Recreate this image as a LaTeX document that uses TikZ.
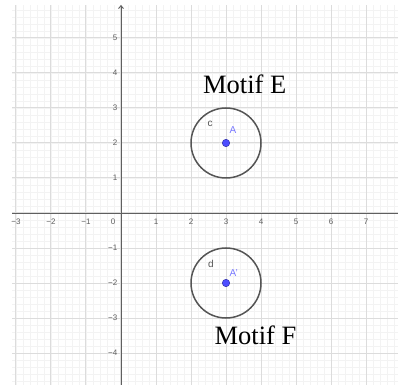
\documentclass[tikz,border=0pt]{standalone}
\usepackage{fontspec}
\setmainfont{Liberation Serif}
\setsansfont{Liberation Sans}
\usetikzlibrary{arrows.meta}
\definecolor{minorgrid}{RGB}{243,243,243}
\definecolor{majorgrid}{RGB}{220,220,220}
\definecolor{axiscol}{RGB}{95,95,95}
\definecolor{ticktext}{RGB}{95,95,95}
\definecolor{ptfill}{RGB}{77,77,255}
\definecolor{ptdraw}{RGB}{40,40,160}
\definecolor{ptlabel}{RGB}{120,120,255}
\definecolor{circcol}{RGB}{85,85,85}
\tikzset{
  minorline/.style={draw=minorgrid,line width=0.6pt},
  majorline/.style={draw=majorgrid,line width=1pt},
  axisline/.style={draw=axiscol,line width=0.9pt},
  axisarrow/.style={axisline,-{Straight Barb[length=3pt,width=5pt]}},
  ticklabel/.style={font=\sffamily\fontsize{8}{8}\selectfont,text=ticktext,inner sep=0pt},
  ptnode/.style={circle,fill=ptfill,draw=ptdraw,line width=0.4pt,minimum size=7.5pt,inner sep=0pt},
  ptlab/.style={font=\sffamily\fontsize{10}{10}\selectfont,text=ptlabel,inner sep=0pt},
  circlab/.style={font=\sffamily\fontsize{10}{10}\selectfont,text=circcol,inner sep=0pt},
  motif/.style={font=\fontsize{26.5}{26.5}\selectfont,anchor=base,inner sep=0pt},
  circbox/.style={circle,draw=circcol,line width=1.5pt,minimum size=70pt,inner sep=0pt}
}
\begin{document}
\begin{tikzpicture}[x=35pt,y=35pt]
\useasboundingbox[fill=white] (-3.4571,-4.9143) rectangle (7.9143,6.0857);
% grid
\draw[minorline] (-3.114,-4.914) grid[step=0.2] (7.914,5.943);
\draw[majorline] (-3.114,-4.914) grid[step=1] (7.914,5.943);
% axes
\coordinate (xs) at (-3.114,0);
\coordinate (xe) at (7.914,0);
\coordinate (ys) at (0,-4.914);
\coordinate (ye) at (0,5.943);
\draw[axisline] (xs) -- (xe);
\draw[axisarrow] (ys) -- (ye);
% tick labels
\foreach \i in {-3,-2,-1,1,2,3,4,5,6,7}{
  \pgfmathtruncatemacro{\k}{abs(\i)}
  \ifnum\i<0
    \node[ticklabel] (xl\k m) at (\i,-0.257) {−\k};
  \else
    \node[ticklabel] (xl\k) at (\i,-0.257) {\k};
  \fi
}
\node[ticklabel] (x0) at (-0.229,-0.257) {0};
\foreach \i in {-4,-3,-2,-1,1,2,3,4,5}{
  \pgfmathtruncatemacro{\k}{abs(\i)}
  \ifnum\i<0
    \node[ticklabel,anchor=east] (yl\k m) at (-0.1,\i) {−\k};
  \else
    \node[ticklabel,anchor=east] (yl\k) at (-0.1,\i) {\k};
  \fi
}
% circles and points
\node[circbox] (c) at (3,2) {};
\node[circbox] (d) at (3,-2) {};
\node[ptnode] (A) at (3,2) {};
\node[ptnode] (Ap) at (3,-2) {};
\node[ptlab] (lA) at (3.2,2.371) {A};
\node[ptlab] (lAp) at (3.22,-1.714) {A'};
\node[circlab] (lc) at (2.543,2.543) {c};
\node[circlab] (ld) at (2.571,-1.457) {d};
% texts
\node[motif] (mE) at (3.534,3.42) {Motif E};
\node[motif] (mF) at (3.843,-3.771) {Motif F};
\end{tikzpicture}
\end{document}
